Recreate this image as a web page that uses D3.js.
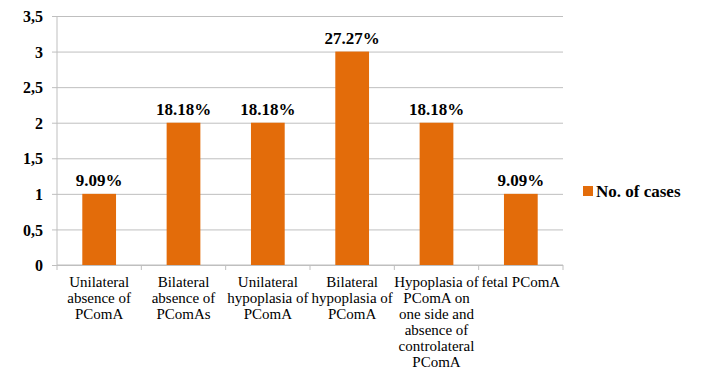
<!DOCTYPE html>
<html>
<head>
<meta charset="utf-8">
<script src="https://cdn.jsdelivr.net/npm/d3@7"></script>
<style>
  html, body { margin: 0; padding: 0; background: #fff; }
  svg { display: block; }
  svg text { font-family: "Liberation Serif", "Times New Roman", Tinos, "DejaVu Serif", serif; }
</style>
</head>
<body>
<svg id="chart" width="701" height="371"></svg>
<script>
// Category labels, one entry per bar; "|" marks a line break
const categories = [
  "Unilateral|absence of|PComA",
  "Bilateral|absence of|PComAs",
  "Unilateral|hypoplasia of|PComA",
  "Bilateral|hypoplasia of|PComA",
  "Hypoplasia of|PComA on|one side and|absence of|controlateral|PComA",
  "fetal PComA"
];
const cases = [1, 2, 2, 3, 2, 1];
const percentLabels = ["9.09%", "18.18%", "18.18%", "27.27%", "18.18%", "9.09%"];
const yTicks = [0, 0.5, 1, 1.5, 2, 2.5, 3, 3.5];
const seriesName = "No. of cases";

const barColor = "#E36C0A";
const gridColor = "#bfbfbf";

const svg = d3.select("#chart");
const margin = { left: 57, right: 138, top: 16, bottom: 106 };
const W = 701, H = 371;
const plotW = W - margin.left - margin.right;
const plotH = H - margin.top - margin.bottom;

const g = svg.append("g").attr("transform", `translate(${margin.left},${margin.top})`);

const x = d3.scaleBand().domain(d3.range(categories.length)).range([0, plotW]).paddingInner(0.6).paddingOuter(0.3);
const xBand = d3.scaleBand().domain(d3.range(categories.length)).range([0, plotW]);
const y = d3.scaleLinear().domain([0, 3.5]).range([plotH, 0]);

// Horizontal gridlines with short ticks left of the axis
const yAxis = d3.axisLeft(y).tickValues(yTicks).tickSize(-plotW).tickPadding(0)
  .tickFormat(d => String(d).replace(".", ","));
const ya = g.append("g").call(yAxis);
ya.attr("font-family", null);
ya.select(".domain").remove();
ya.selectAll(".tick line").attr("stroke", gridColor).attr("x1", -5).attr("stroke-width", 1);
ya.selectAll(".tick text")
  .attr("x", -14)
  .attr("dy", "0.35em")
  .attr("fill", "#000")
  .style("font-weight", "bold")
  .style("font-size", "16px");

// Vertical axis line
g.append("line")
  .attr("x1", 0).attr("x2", 0).attr("y1", 0).attr("y2", plotH)
  .attr("stroke", gridColor);

// Category axis with tick marks at band boundaries
const xa = g.append("g").attr("transform", `translate(0,${plotH})`);
xa.append("line").attr("x1", 0).attr("x2", plotW).attr("stroke", gridColor);
xa.selectAll("line.sep")
  .data(d3.range(categories.length + 1))
  .join("line")
  .attr("class", "sep")
  .attr("x1", i => i * xBand.bandwidth())
  .attr("x2", i => i * xBand.bandwidth())
  .attr("y1", 0).attr("y2", 5)
  .attr("stroke", gridColor);

// Bars
g.selectAll("rect.bar")
  .data(cases)
  .join("rect")
  .attr("class", "bar")
  .attr("x", (d, i) => x(i))
  .attr("width", x.bandwidth())
  .attr("y", d => y(d))
  .attr("height", d => plotH - y(d))
  .attr("fill", barColor);

// Percentage labels above bars
g.selectAll("text.val")
  .data(cases)
  .join("text")
  .attr("class", "val")
  .attr("x", (d, i) => x(i) + x.bandwidth() / 2)
  .attr("y", d => y(d) - 8)
  .attr("text-anchor", "middle")
  .style("font-weight", "bold")
  .style("font-size", "17px")
  .attr("fill", "#000")
  .text((d, i) => percentLabels[i]);

// Multi-line category labels
const labels = xa.selectAll("text.cat")
  .data(categories)
  .join("text")
  .attr("class", "cat")
  .attr("text-anchor", "middle")
  .attr("transform", (d, i) => `translate(${xBand(i) + xBand.bandwidth() / 2},22)`)
  .style("font-size", "15px")
  .attr("fill", "#000");
labels.selectAll("tspan")
  .data(d => d.split("|"))
  .join("tspan")
  .attr("x", 0)
  .attr("y", (d, i) => i * 16)
  .text(d => d);

// Legend
const lg = svg.append("g").attr("transform", `translate(${margin.left + plotW + 20},191)`);
lg.append("rect").attr("x", 0).attr("y", -5).attr("width", 10).attr("height", 10).attr("fill", barColor);
lg.append("text")
  .attr("x", 13).attr("y", 0).attr("dy", "0.35em")
  .style("font-weight", "bold")
  .style("font-size", "17px")
  .attr("fill", "#000")
  .text(seriesName);
</script>
</body>
</html>
